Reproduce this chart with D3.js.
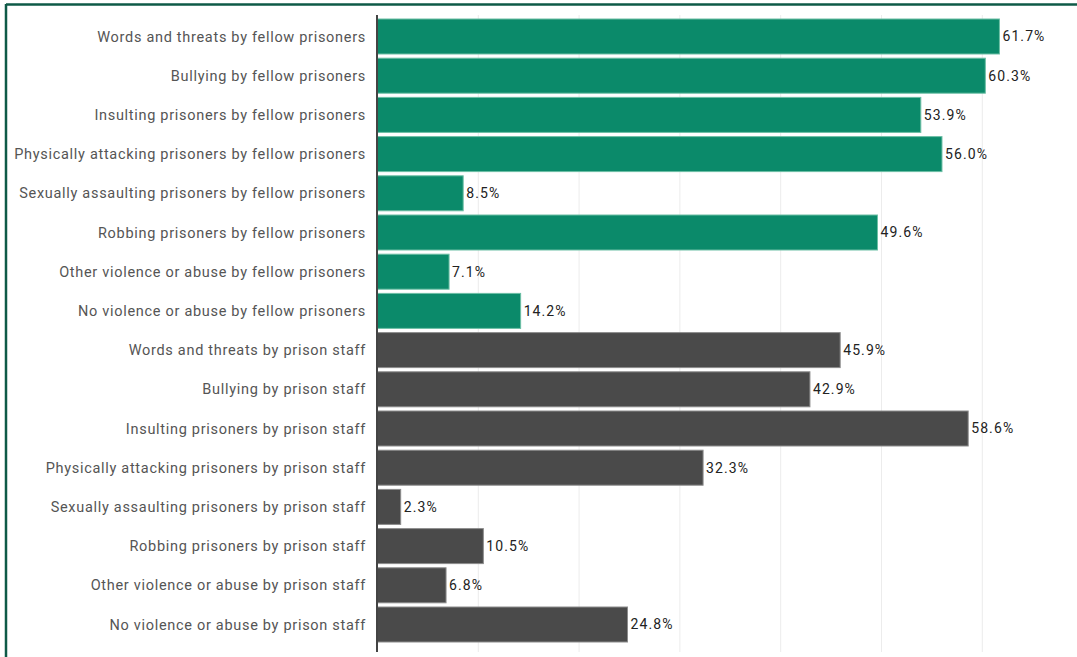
<!DOCTYPE html>
<html><head><meta charset="utf-8">
<script src="https://cdn.jsdelivr.net/npm/d3@7"></script>
<style>html,body{margin:0;padding:0;background:#fff;overflow:hidden}</style>
</head><body><svg id="c" width="1077" height="657"></svg>
<script>
const categories = [
  "Words and threats by fellow prisoners",
  "Bullying by fellow prisoners",
  "Insulting prisoners by fellow prisoners",
  "Physically attacking prisoners by fellow prisoners",
  "Sexually assaulting prisoners by fellow prisoners",
  "Robbing prisoners by fellow prisoners",
  "Other violence or abuse by fellow prisoners",
  "No violence or abuse by fellow prisoners",
  "Words and threats by prison staff",
  "Bullying by prison staff",
  "Insulting prisoners by prison staff",
  "Physically attacking prisoners by prison staff",
  "Sexually assaulting prisoners by prison staff",
  "Robbing prisoners by prison staff",
  "Other violence or abuse by prison staff",
  "No violence or abuse by prison staff"
];
const values = [61.7, 60.3, 53.9, 56.0, 8.5, 49.6, 7.1, 14.2, 45.9, 42.9, 58.6, 32.3, 2.3, 10.5, 6.8, 24.8];
const groups = ["fellow","fellow","fellow","fellow","fellow","fellow","fellow","fellow",
                "staff","staff","staff","staff","staff","staff","staff","staff"];
const gridTicks = [10, 20, 30, 40, 50, 60];

(function(){
const svg = d3.select("#c");
const x0 = 377.5, plotTop = 15, plotBottom = 652;
const x = d3.scaleLinear().domain([0, 10]).range([x0, x0 + 100.8]);
const y = d3.scaleBand().domain(categories).range([16.9, 644.1]).paddingInner(0.107).paddingOuter(0.0535);
const fill = d3.scaleOrdinal().domain(["fellow","staff"]).range(["#0b8a6a","#4a4a4a"]);
const stroke = d3.scaleOrdinal().domain(["fellow","staff"]).range(["#6dbfa5","#8c8c8c"]);

// border
svg.append("line").attr("x1",6).attr("x2",1077).attr("y1",4.5).attr("y2",4.5).attr("stroke","#0e5a47").attr("stroke-width",2.5);
svg.append("line").attr("x1",6).attr("x2",6).attr("y1",4).attr("y2",657).attr("stroke","#0e5a47").attr("stroke-width",2.5);

// gridlines
svg.append("g").selectAll("line").data(gridTicks).join("line")
  .attr("x1", d => x(d)).attr("x2", d => x(d))
  .attr("y1", plotTop).attr("y2", plotBottom)
  .attr("stroke", "#ececec").attr("stroke-width", 1);

const data = categories.map((c, i) => ({c, v: values[i], g: groups[i]}));

svg.append("g").selectAll("rect").data(data).join("rect")
  .attr("x", x(0)).attr("y", d => y(d.c))
  .attr("width", d => x(d.v) - x(0)).attr("height", y.bandwidth())
  .attr("fill", d => fill(d.g)).attr("stroke", d => stroke(d.g)).attr("stroke-width", 1);

// axis line
svg.append("line").attr("x1", x0 - 0.5).attr("x2", x0 - 0.5).attr("y1", plotTop).attr("y2", plotBottom)
  .attr("stroke", "#444").attr("stroke-width", 2);

// category labels
svg.append("g").selectAll("text").data(data).join("text")
  .attr("x", 366).attr("y", d => y(d.c) + y.bandwidth()/2)
  .attr("dy", "0.35em").attr("text-anchor", "end")
  .attr("font-family", "Roboto, sans-serif").attr("font-size", "14.5px")
  .attr("letter-spacing", "0.7px").attr("fill", "#555")
  .text(d => d.c);

// value labels
svg.append("g").selectAll("text").data(data).join("text")
  .attr("x", d => x(d.v) + 3).attr("y", d => y(d.c) + y.bandwidth()/2)
  .attr("dy", "0.35em")
  .attr("font-family", "Roboto, sans-serif").attr("font-size", "14px")
  .attr("letter-spacing", "1.1px").attr("fill", "#222")
  .text(d => d.v.toFixed(1) + "%");
})();
</script></body></html>
